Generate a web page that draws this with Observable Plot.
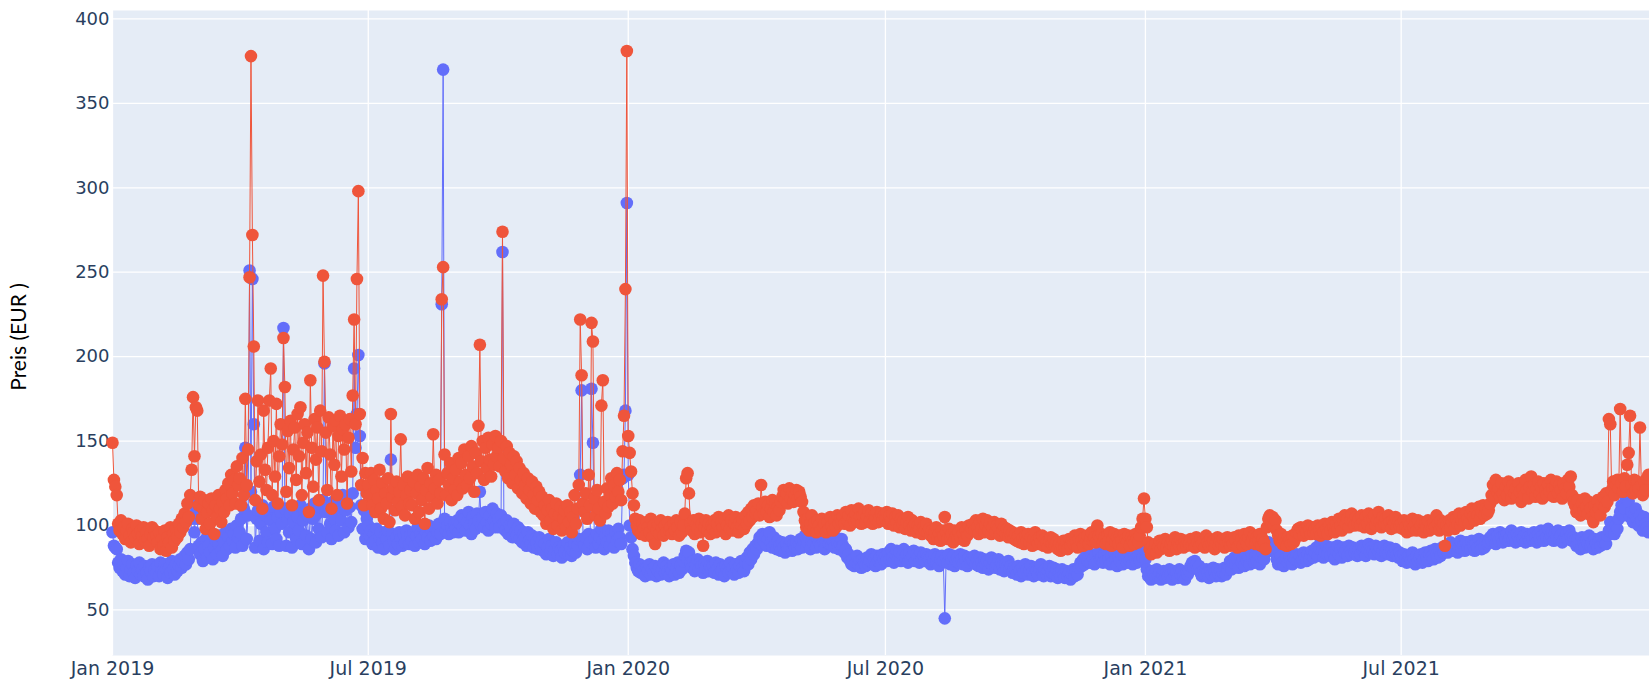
<!DOCTYPE html>
<html>
<head>
<meta charset="utf-8">
<script src="https://cdn.jsdelivr.net/npm/d3@7"></script>
<script src="https://cdn.jsdelivr.net/npm/@observablehq/plot@0.6"></script>
<style>
  html, body { margin: 0; padding: 0; background: #ffffff; }
  #chart { width: 1649px; height: 680px; overflow: hidden; }
</style>
</head>
<body>
<div id="chart"></div>
<script>
// Daily prices (EUR), one value per day starting on 1 January of each year
const red2019 = [
  149,127,123,118,101,97,103,95,99,92,97,101,94,90,98,96,93,100,95,89,97,94,99,91,96,92,88,95,99,93,97, // Jan
  94,90,96,86,92,88,97,85,93,90,99,87,95,91,98,93,101,96,104,99,107,102,113,105,118,133,176,141, // Feb
  170,168,112,117,104,110,115,98,108,113,101,116,109,95,112,105,118,110,102,114,108,121,116,125,112,130,119,127,113,135,124, // Mar
  128,112,140,118,175,124,145,247,378,272,206,115,138,174,126,142,110,168,133,121,146,174,193,118,150,129,172,113,141,160, // Apr
  148,211,182,120,156,134,162,112,145,158,127,166,141,170,118,149,160,131,155,108,186,146,123,163,139,158,115,168,144,248,197, // May
  155,121,164,142,110,159,136,162,118,153,165,129,157,145,160,113,152,163,132,177,222,160,246,298,166,124,140,112,131,119, // Jun
  124,118,131,112,127,108,121,116,133,110,125,104,119,113,128,102,166,117,122,109,126,114,120,151,111,124,106,118,129,113,121, // Jul
  112,126,104,119,130,108,123,115,128,101,121,134,110,125,117,154,122,130,113,127,119,234,253,142,118,131,124,137,115,128,121, // Aug
  133,118,140,126,137,122,145,130,124,141,128,147,135,120,143,131,159,207,138,150,127,146,134,152,139,129,148,136,153,141, // Sep
  146,135,150,274,140,132,147,128,143,136,125,141,130,138,122,134,127,119,131,124,116,128,121,113,126,118,110,123,115,120,108, // Oct
  117,106,112,101,109,115,103,110,98,107,113,100,106,111,97,104,109,99,112,102,108,96,105,118,101,110,124,222,189,113, // Nov
  108,119,104,130,112,220,209,116,106,121,110,103,171,186,114,107,122,111,118,128,113,124,117,131,120,127,115,144,165,240,381 // Dec
];
const red2020 = [
  153,143,132,119,112,104,100,97,103,95,101,98,94,102,99,96,104,93,100,89,97,101,95,103,98,94,100,96,102,97,99, // Jan
  95,101,97,103,99,94,102,96,100,107,128,131,119,101,97,103,95,100,98,104,96,101,88,99,103,97,101,95,100, // Feb
  98,103,96,101,105,97,102,99,104,95,100,106,98,103,97,101,105,99,96,102,100,104,98,106,101,108,103,110,105,112,107, // Mar
  109,113,106,124,111,107,114,108,112,105,110,115,108,113,106,111,109,114,117,121,115,119,113,122,116,120,114,118,121,116, // Apr
  120,117,114,108,103,99,104,97,101,106,98,102,96,103,100,97,104,99,101,96,102,98,105,100,97,103,99,106,101,104,102, // May
  105,101,108,103,106,100,109,104,102,107,103,110,105,101,106,108,102,105,109,103,107,101,106,104,108,102,105,107,103,106, // Jun
  104,108,101,106,103,107,100,105,102,106,99,104,101,103,98,102,105,100,97,103,99,101,96,100,98,102,95,99,97,101,96, // Jul
  98,94,97,92,96,99,93,95,91,97,94,105,96,92,98,93,95,90,97,94,92,96,93,99,95,91,97,94,100,96,98, // Aug
  101,97,103,99,95,102,98,104,96,100,103,97,101,95,99,102,96,100,98,94,101,97,99,95,98,93,97,94,96,92, // Sep
  95,91,94,90,96,92,89,94,91,95,90,93,88,92,96,91,89,93,90,94,88,92,90,87,91,93,89,92,88,90,86, // Oct
  89,85,88,91,87,90,86,92,88,91,89,94,90,87,92,95,91,88,93,90,94,89,92,96,91,93,90,100,94,92, // Nov
  95,90,93,89,94,91,96,88,92,95,90,93,89,94,91,87,95,92,90,94,88,93,91,89,95,92,90,94,99,104,116 // Dec
];
const red2021 = [
  104,99,90,86,83,88,85,89,84,87,91,86,89,88,92,87,90,85,89,91,88,93,86,90,88,92,89,87,91,88,90, // Jan
  89,92,88,91,87,93,90,88,92,89,91,87,94,90,88,92,89,91,86,90,93,88,91,89,92,87,90,93, // Feb
  90,88,92,89,93,91,87,94,90,92,88,95,91,89,93,96,90,92,94,89,93,91,95,88,92,90,86,99,104,106,101, // Mar
  105,100,103,97,94,91,95,89,92,90,88,93,91,89,94,90,92,96,98,95,99,97,94,98,96,100,97,95,99,96, // Apr
  98,95,100,97,94,99,96,101,98,95,100,97,102,99,96,101,98,104,100,97,103,106,101,104,99,103,107,102,100,105,101, // May
  104,100,106,102,99,105,101,107,103,98,104,106,100,103,108,102,99,105,101,104,100,106,102,98,103,101,105,99,102,100, // Jun
  101,98,103,99,96,102,100,97,104,99,101,97,103,98,100,102,96,101,99,103,97,100,98,102,99,106,101,97,103,99,101, // Jul
  88,100,97,103,99,102,105,98,104,101,107,100,103,106,102,108,104,101,107,110,105,103,109,106,111,104,108,112,106,110,107, // Aug
  109,113,118,124,116,127,120,122,117,125,119,115,123,118,126,121,116,124,119,122,117,125,120,114,122,118,127,121,116,123, // Sep
  129,120,124,117,122,126,119,123,116,125,121,118,124,120,127,122,117,123,126,119,124,121,116,125,122,119,127,123,129,118,114, // Oct
  112,108,115,110,106,113,109,116,111,107,114,110,105,102,112,108,115,110,106,113,117,111,119,114,163,160,121,126,118,124, // Nov
  127,122,169,125,120,128,123,136,143,165,124,119,127,121,126,122,158,124,118,126,121,128,130 // Dec (to 23rd)
];

const blue2019 = [
  96,88,87,86,78,75,80,73,77,71,75,79,70,74,77,72,69,76,73,78,71,74,70,76,72,68,75,73,77,70,74, // Jan
  72,76,70,78,73,71,77,74,69,75,72,79,74,71,77,73,76,80,75,78,82,77,84,80,86,104,113,96, // Feb
  108,104,88,83,90,79,86,92,81,88,84,95,80,87,91,83,89,94,85,82,90,96,86,93,88,98,91,95,87,100,93, // Mar
  96,104,88,110,146,92,106,251,120,246,160,87,104,109,91,101,112,86,106,96,90,108,103,89,111,98,92,105,88,108, // Apr
  101,217,110,88,104,96,107,87,102,109,92,105,97,112,89,103,108,94,106,86,110,92,104,113,90,107,98,111,93,115,196, // May
  108,96,112,101,92,114,104,97,116,94,110,103,118,96,109,113,99,111,102,119,193,146,166,201,153,112,98,109,92,104, // Jun
  100,94,97,89,95,91,98,87,93,96,90,86,94,92,97,88,139,95,91,86,93,89,96,92,88,95,90,97,93,89,94, // Jul
  91,96,88,94,99,90,95,92,98,89,96,93,100,91,97,94,99,92,96,101,95,231,370,104,97,100,95,102,98,96,101, // Aug
  98,103,96,101,106,99,104,97,102,108,100,95,105,101,98,107,103,120,100,105,99,108,102,97,106,101,110,103,99,107, // Sep
  104,99,106,262,101,97,103,95,100,98,93,101,96,94,99,92,97,90,95,93,88,96,91,89,94,87,92,90,86,93,88, // Oct
  91,85,89,83,87,92,84,88,82,86,90,83,87,85,81,88,84,86,90,83,87,82,85,89,84,88,92,130,180,91, // Nov
  88,93,86,95,90,181,149,92,87,95,89,93,98,91,86,94,90,97,88,95,92,87,96,91,98,93,89,128,130,168,291 // Dec
];
const blue2020 = [
  130,100,93,86,82,78,75,73,77,72,76,74,70,75,73,77,71,74,72,76,70,73,75,71,74,78,72,76,73,70,75, // Jan
  73,77,71,75,78,72,76,74,79,82,85,80,84,78,75,79,73,77,80,74,78,76,72,77,75,79,73,76,74, // Feb
  76,72,78,74,71,77,73,75,70,76,74,72,78,73,75,71,77,74,72,76,79,75,73,78,81,77,84,80,86,83,88, // Mar
  86,90,93,89,95,91,94,88,92,96,90,87,93,89,86,91,88,85,90,87,84,89,86,88,91,85,89,87,90,86, // Apr
  89,92,87,91,94,88,90,93,86,91,89,94,87,92,90,88,93,91,86,90,94,89,92,88,91,87,93,90,86,89,92, // May
  88,84,86,81,83,79,77,80,76,78,82,77,79,75,80,78,76,81,77,79,83,78,80,76,82,79,81,77,83,80, // Jun
  82,79,84,80,86,81,78,83,85,80,84,79,82,86,81,83,78,84,80,82,85,79,83,81,78,84,80,82,79,83,81, // Jul
  80,77,82,79,83,78,81,76,80,82,79,45,81,78,83,77,80,82,76,79,81,78,83,80,77,82,79,76,81,78,80, // Aug
  79,82,77,80,76,81,78,75,80,77,79,74,78,81,76,79,75,77,80,74,78,76,73,77,75,79,74,76,72,75, // Sep
  74,71,76,73,70,75,72,77,74,71,73,76,72,70,75,73,71,74,77,72,70,74,71,73,76,70,72,75,71,74,69, // Oct
  72,70,74,71,69,73,70,72,68,71,74,70,73,71,75,78,76,80,77,82,79,81,78,83,80,77,82,79,84,80, // Nov
  81,78,83,79,85,80,77,82,78,84,80,76,81,79,83,77,82,80,78,84,79,81,77,83,80,78,82,79,84,81,86 // Dec
];
const blue2021 = [
  80,74,70,72,68,73,71,69,74,70,72,68,71,73,69,72,70,74,71,68,73,70,72,69,74,71,73,70,68,72,71, // Jan
  73,76,78,75,79,77,74,76,72,70,73,71,74,72,69,73,71,75,72,70,74,71,73,70,72,75,71,74, // Feb
  76,79,74,78,81,77,80,75,82,78,80,76,83,79,81,77,84,80,78,82,79,83,77,81,84,80,86,88,90,85,87, // Mar
  86,88,84,80,77,79,82,78,76,80,81,78,82,79,77,81,80,83,79,82,78,80,84,81,79,83,80,82,85,81, // Apr
  84,87,82,86,90,85,81,84,88,83,86,82,87,84,80,85,88,83,86,81,87,84,86,82,88,85,83,87,84,86,82, // May
  86,83,88,85,87,82,86,89,84,87,85,83,88,86,84,87,82,85,88,84,86,83,87,85,82,84,86,83,81,84, // Jun
  82,79,83,80,78,82,81,79,84,80,77,82,79,81,83,78,80,84,81,79,83,85,82,80,86,83,81,85,82,87,84, // Jul
  86,88,84,87,90,85,88,86,89,84,87,91,86,88,85,90,87,89,86,91,88,85,89,87,92,88,86,90,87,91,89, // Aug
  90,93,91,95,92,89,94,91,96,93,90,94,92,95,91,93,97,92,94,90,95,93,91,96,92,94,90,95,93,91, // Sep
  94,92,96,93,90,95,92,97,94,91,95,93,98,92,94,96,91,95,93,97,92,94,90,96,93,95,92,97,94,91,93, // Oct
  91,88,92,89,86,93,90,87,91,89,94,88,90,86,92,89,87,91,88,93,90,92,89,94,97,102,96,99,95,100, // Nov
  98,104,108,112,106,110,116,118,114,105,108,102,107,110,104,100,106,103,97,105,101,99,96 // Dec (to 23rd)
];

const years = [2019, 2020, 2021];
const seriesColors = ["#636EFA", "#EF553B"];
const yTicks = [50, 100, 150, 200, 250, 300, 350, 400];
const xTicks = ["2019-01-01", "2019-07-01", "2020-01-01", "2020-07-01", "2021-01-01", "2021-07-01"];
const xDomain = ["2019-01-01T00:00:00Z", "2021-12-23T18:00:00Z"];
const yDomain = [23, 405];
const yLabel = "Preis (EUR )";

function toRows(yearArrays) {
  const rows = [];
  yearArrays.forEach((arr, k) => {
    const jan1 = new Date(Date.UTC(years[k], 0, 1));
    arr.forEach((v, i) => rows.push({date: d3.utcDay.offset(jan1, i), value: v}));
  });
  return rows;
}
const blueData = toRows([blue2019, blue2020, blue2021]);
const redData = toRows([red2019, red2020, red2021]);

const chart = Plot.plot({
  width: 1649,
  height: 680,
  marginLeft: 112,
  marginRight: 0,
  marginTop: 10,
  marginBottom: 25,
  style: {fontFamily: "DejaVu Sans", fontSize: "18px", background: "#ffffff", overflow: "visible"},
  x: {type: "utc", domain: xDomain.map(d => new Date(d))},
  y: {domain: yDomain},
  marks: [
    Plot.frame({fill: "#E5ECF6", stroke: null}),
    Plot.gridX(xTicks.map(d => new Date(d)), {stroke: "#ffffff", strokeOpacity: 1, strokeWidth: 1.3}),
    Plot.gridY(yTicks, {stroke: "#ffffff", strokeOpacity: 1, strokeWidth: 1.3}),
    Plot.axisX(xTicks.map(d => new Date(d)), {tickSize: 0, tickPadding: 6, tickFormat: d3.utcFormat("%b %Y"), fill: "#2a3f5f", label: null, fontSize: 19}),
    Plot.axisY(yTicks, {tickSize: 0, tickPadding: 3, fill: "#2a3f5f", label: null, fontSize: 18}),
    Plot.lineY(blueData, {x: "date", y: "value", stroke: seriesColors[0], strokeWidth: 1}),
    Plot.dot(blueData, {x: "date", y: "value", r: 6.3, fill: seriesColors[0], stroke: null}),
    Plot.lineY(redData, {x: "date", y: "value", stroke: seriesColors[1], strokeWidth: 1}),
    Plot.dot(redData, {x: "date", y: "value", r: 6.3, fill: seriesColors[1], stroke: null}),
    Plot.text([yLabel], {frameAnchor: "left", textAnchor: "middle", dx: -93, dy: 4, rotate: -90, fontSize: 21, fontFamily: "Lato", fill: "#000000"})
  ]
});
document.getElementById("chart").appendChild(chart);
</script>
</body>
</html>
